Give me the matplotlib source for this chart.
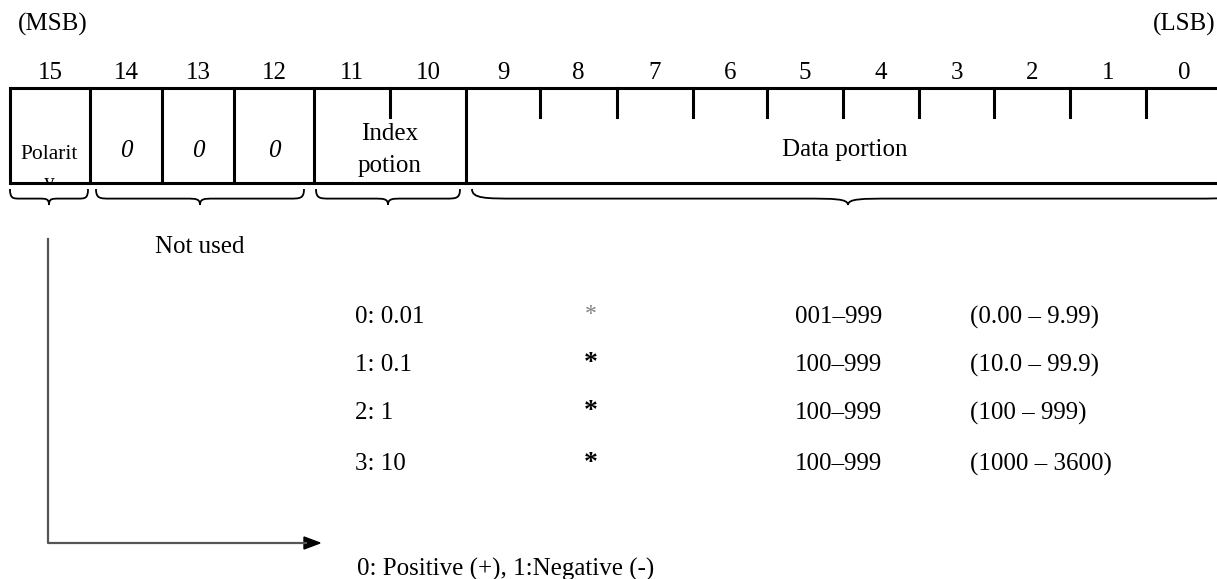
import matplotlib.pyplot as plt
from matplotlib.path import Path
from matplotlib.patches import PathPatch, Polygon
from matplotlib.transforms import Bbox, TransformedBbox

plt.rcParams['font.family'] = ['Liberation Serif', 'DejaVu Serif']

# diagram content
bits = [str(b) for b in range(15, -1, -1)]
unused_bits = ['0', '0', '0']
index_rows = ['0: 0.01', '1: 0.1', '2: 1', '3: 10']
range_rows = ['001\u2013999', '100\u2013999', '100\u2013999', '100\u2013999']
value_rows = ['(0.00 \u2013 9.99)', '(10.0 \u2013 99.9)', '(100 \u2013 999)', '(1000 \u2013 3600)']
polarity_note = '0: Positive (+), 1:Negative (-)'

# cell edges in pixels (bit 15 .. bit 0)
edges = [10, 90, 162, 234, 314, 390, 466, 540, 617, 693, 767, 843, 919, 994, 1070, 1146, 1222]
top, bot = 88, 183
fs = 18

fig = plt.figure(figsize=(12.17, 5.79), dpi=100)
ax = fig.add_axes([0, 0, 1, 1])
ax.set_xlim(0, 1217)
ax.set_ylim(579, 0)
ax.axis('off')

ax.text(18, 24, '(MSB)', fontsize=fs, va='center', ha='left')
ax.text(1215, 24, '(LSB)', fontsize=fs, va='center', ha='right')

for i, b in enumerate(bits):
    ax.text((edges[i] + edges[i + 1]) / 2, 73, b, fontsize=fs, ha='center', va='center')

# box outline
lw = 2.2
ax.plot([edges[0], 1217], [top, top], color='black', lw=lw, solid_capstyle='butt')
ax.plot([edges[0], 1217], [bot, bot], color='black', lw=lw, solid_capstyle='butt')
for x in [edges[0], edges[1], edges[2], edges[3], edges[4], edges[6]]:
    ax.plot([x, x], [top, bot], color='black', lw=lw)
for x in [edges[5]] + edges[7:16]:
    ax.plot([x, x], [top, 117], color='black', lw=lw)

# field labels
clip = TransformedBbox(Bbox([[edges[0], top], [edges[1], bot - 1]]), ax.transData)
ax.text(49, 159, 'Polarit', fontsize=15.5, ha='center', va='baseline')
t = ax.text(49, 188, 'y', fontsize=15.5, ha='center', va='baseline', clip_on=True)
t.set_clip_box(clip)
for i, z in enumerate(unused_bits):
    ax.text((edges[i + 1] + edges[i + 2]) / 2, 151, z, fontsize=fs, style='italic',
            ha='center', va='center')
ax.text(390, 134, 'Index', fontsize=fs, ha='center', va='center')
ax.text(390, 166, 'potion', fontsize=fs, ha='center', va='center')
ax.text(845, 150, 'Data portion', fontsize=fs, ha='center', va='center')


def brace(x0, x1, xt, y0=189, h=16, r=14):
    ym = y0 + h * 0.6
    yt = y0 + h
    verts = [(x0, y0), (x0, ym), (x0 + r * 0.3, ym), (x0 + r, ym),
             (xt - r, ym),
             (xt - r * 0.3, ym), (xt, ym), (xt, yt),
             (xt, ym), (xt + r * 0.3, ym), (xt + r, ym),
             (x1 - r, ym),
             (x1 - r * 0.3, ym), (x1, ym), (x1, y0)]
    codes = [Path.MOVETO, Path.CURVE4, Path.CURVE4, Path.CURVE4,
             Path.LINETO,
             Path.CURVE4, Path.CURVE4, Path.CURVE4,
             Path.CURVE4, Path.CURVE4, Path.CURVE4,
             Path.LINETO,
             Path.CURVE4, Path.CURVE4, Path.CURVE4]
    ax.add_patch(PathPatch(Path(verts, codes), fill=False, lw=1.3, color='black'))


brace(10, 88, 49, r=10)
brace(96, 304, 200)
brace(316, 460, 388)
brace(472, 1240, 848, r=45)

ax.text(155, 247, 'Not used', fontsize=fs, ha='left', va='center')

# polarity arrow
ax.plot([48, 48, 306], [239, 543, 543], color='#555555', lw=1.6)
ax.add_patch(Polygon([(304, 537), (320, 543), (304, 549)], closed=True, color='black'))
ax.text(357, 569, polarity_note, fontsize=fs, ha='left', va='center')

# index table
row_y = [317, 365, 413, 464]
for k, y in enumerate(row_y):
    ax.text(355, y, index_rows[k], fontsize=fs, ha='left', va='center')
    if k == 0:
        ax.text(591, y - 2, '*', fontsize=17, color='#808080', ha='center', va='center')
    else:
        ax.text(591, y - 1, '*', fontsize=20, fontweight='bold', color='black',
                ha='center', va='center')
    ax.text(795, y, range_rows[k], fontsize=fs, ha='left', va='center')
    ax.text(970, y, value_rows[k], fontsize=fs, ha='left', va='center')

fig.savefig('out.png', dpi=100)
